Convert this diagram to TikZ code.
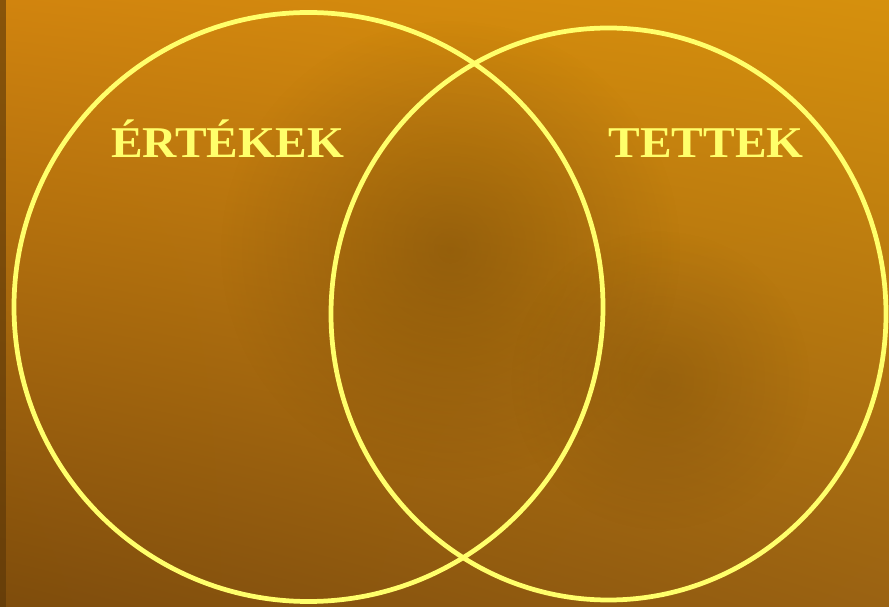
\documentclass[tikz,border=0pt]{standalone}
\usepackage{fontspec}
\setmainfont{Liberation Serif}
\usepackage{tikz}
\usetikzlibrary{positioning,shadings,fadings}
\definecolor{parchA}{HTML}{D1840E}
\definecolor{parchB}{HTML}{A4640F}
\definecolor{parchC}{HTML}{7E4C0C}
\definecolor{parchD}{HTML}{9A6212}
\definecolor{ring}{HTML}{FFFF6B}
\tikzfading[name=softspot, inner color=transparent!0, outer color=transparent!100]
\tikzset{
  ringline/.style={draw=ring, line width=2.7pt},
  setlabel/.style={text=ring, font=\bfseries\fontsize{25}{30}\selectfont, xscale=1.08, inner sep=0pt, anchor=base},
}
\begin{document}
\begin{tikzpicture}[x=0.02cm, y=-0.02cm]
\useasboundingbox (0,0) rectangle (889,607);
% background
\shade[upper left=parchA, upper right=parchA!90!yellow, lower left=parchC, lower right=parchD]
  (0,0) rectangle (889,607);
\fill[parchC!60!black, opacity=0.3, path fading=softspot] (450,250) circle[radius=230];
\fill[parchC!60!black, opacity=0.2, path fading=softspot] (660,380) circle[radius=150];
\fill[parchC!70!black, opacity=0.6] (0,0) rectangle (6,607);
% the two sets
\draw[ringline] (308.5,307) circle[radius=294.5];
\draw[ringline] (608.5,314) ellipse[x radius=277.5, y radius=286];
\node[setlabel] (ertek) at (227.5,158) {ÉRTÉKEK};
\node[setlabel] (tett) at (706,158) {TETTEK};
\end{tikzpicture}
\end{document}
